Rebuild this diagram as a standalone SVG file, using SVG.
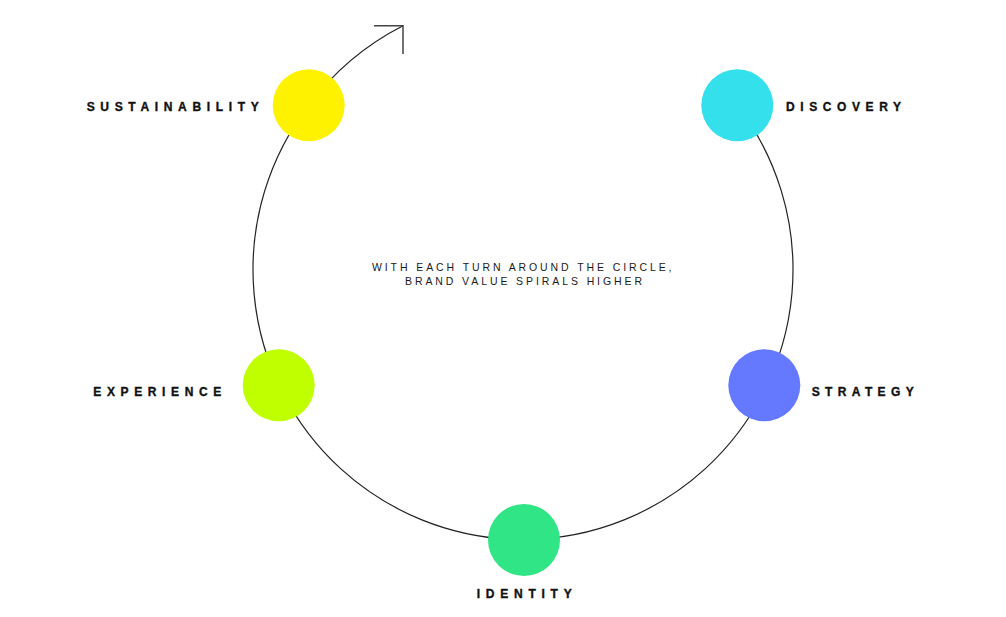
<svg xmlns="http://www.w3.org/2000/svg" width="1006" height="617" viewBox="0 0 1006 617">
<style>
.lbl{font-family:"Liberation Sans",Arial,sans-serif;font-weight:bold;font-size:12px;fill:#111;stroke:#111;stroke-width:0.35;}
.mid{font-family:"Liberation Sans",Arial,sans-serif;font-size:10.5px;fill:#1a1a1a;}
.ring{fill:none;stroke:#222;stroke-width:1.2;}
.head{fill:none;stroke:#444;stroke-width:1.5;}
</style>
<rect width="1006" height="617" fill="#fff"/>
<g id="connectors">
<path class="ring" d="M737.3,105.3 A270 270 0 1 1 308.7,105.3 A273 273 0 0 1 403,25.7"/>
<path class="head" d="M374,25.7 H403 V54"/>
</g>
<g id="center-text">
<text class="mid" x="372" y="270.5" textLength="299.5" lengthAdjust="spacing">WITH EACH TURN AROUND THE CIRCLE,</text>
<text class="mid" x="405" y="284.5" textLength="237" lengthAdjust="spacing">BRAND VALUE SPIRALS HIGHER</text>
</g>
<g id="sustainability">
<circle cx="308.7" cy="105.3" r="36" fill="#FFF200"/>
<text class="lbl" x="86.7" y="111" textLength="172" lengthAdjust="spacing">SUSTAINABILITY</text>
</g>
<g id="discovery">
<circle cx="737.3" cy="105.3" r="36" fill="#33E0EB"/>
<text class="lbl" x="786" y="111" textLength="115" lengthAdjust="spacing">DISCOVERY</text>
</g>
<g id="experience">
<circle cx="278.7" cy="385.3" r="36" fill="#BFFF00"/>
<text class="lbl" x="93.3" y="395.5" textLength="128" lengthAdjust="spacing">EXPERIENCE</text>
</g>
<g id="strategy">
<circle cx="764.3" cy="385.3" r="36" fill="#6479FF"/>
<text class="lbl" x="811.7" y="395.5" textLength="102" lengthAdjust="spacing">STRATEGY</text>
</g>
<g id="identity">
<circle cx="524" cy="540" r="36" fill="#30E585"/>
<text class="lbl" x="476.7" y="597.5" textLength="95" lengthAdjust="spacing">IDENTITY</text>
</g>
</svg>
